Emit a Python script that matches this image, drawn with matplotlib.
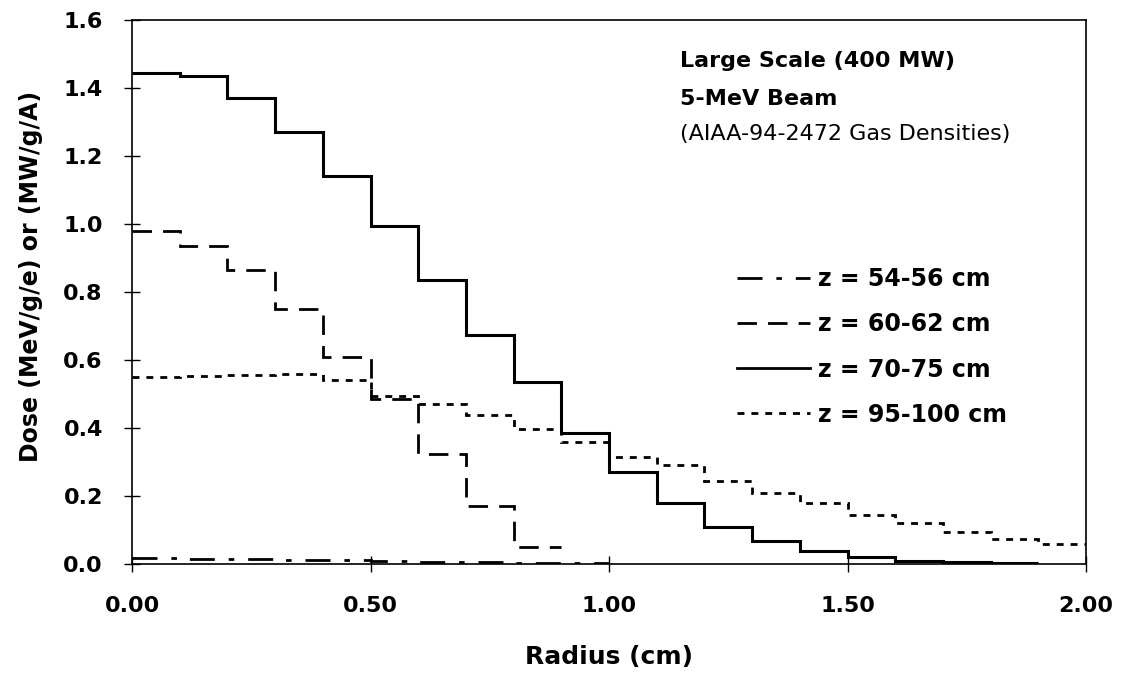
import numpy as np
import matplotlib
matplotlib.use('Agg')
import matplotlib.pyplot as plt
from matplotlib.lines import Line2D

plt.rcParams['font.family'] = ['DejaVu Sans']

# radial bins (cm) and dose values
z54_edges = [0.0, 0.1, 0.2, 0.3, 0.4, 0.5, 0.6, 0.7, 0.8, 0.9, 1.0]
z54_dose = [0.017, 0.016, 0.015, 0.013, 0.011, 0.009, 0.007, 0.005, 0.003, 0.002]

z60_edges = [0.0, 0.1, 0.2, 0.3, 0.4, 0.5, 0.6, 0.7, 0.8, 0.9]
z60_dose = [0.98, 0.935, 0.865, 0.75, 0.61, 0.485, 0.325, 0.17, 0.05]

z70_edges = [0.0, 0.1, 0.2, 0.3, 0.4, 0.5, 0.6, 0.7, 0.8, 0.9, 1.0,
             1.1, 1.2, 1.3, 1.4, 1.5, 1.6, 1.7, 1.8, 1.9]
z70_dose = [1.445, 1.435, 1.37, 1.27, 1.14, 0.995, 0.835, 0.675, 0.535, 0.385,
            0.27, 0.18, 0.11, 0.068, 0.038, 0.022, 0.01, 0.005, 0.003]

z95_edges = [0.0, 0.1, 0.2, 0.3, 0.4, 0.5, 0.6, 0.7, 0.8, 0.9, 1.0,
             1.1, 1.2, 1.3, 1.4, 1.5, 1.6, 1.7, 1.8, 1.9, 2.0]
z95_dose = [0.55, 0.552, 0.556, 0.56, 0.54, 0.495, 0.47, 0.438, 0.398, 0.36,
            0.316, 0.29, 0.243, 0.21, 0.178, 0.145, 0.12, 0.093, 0.073, 0.06]

labels = ['z = 54-56 cm', 'z = 60-62 cm', 'z = 70-75 cm', 'z = 95-100 cm']
styles = [(0, (9, 5, 2, 5)), (0, (7, 4)), '-', (0, (2.5, 2.5))]
widths = [2.0, 2.0, 2.2, 2.0]

fig = plt.figure(figsize=(11.26, 6.77), dpi=100)
ax = fig.add_axes([132/1126, 1-564/677, (1086-132)/1126, (564-20)/677])

series = [(z54_edges, z54_dose), (z60_edges, z60_dose),
          (z70_edges, z70_dose), (z95_edges, z95_dose)]
for (e, d), ls, lw in zip(series, styles, widths):
    ax.stairs(d, e, baseline=None, color='black', linestyle=ls, linewidth=lw)

ax.set_xlim(0, 2.0)
ax.set_ylim(0, 1.6)
ax.set_xticks(np.arange(0, 2.01, 0.5))
ax.set_xticklabels(['0.00', '0.50', '1.00', '1.50', '2.00'])
ax.set_yticks(np.arange(0, 1.61, 0.2))
ax.set_yticklabels(['0.0', '0.2', '0.4', '0.6', '0.8', '1.0', '1.2', '1.4', '1.6'])
ax.tick_params(axis='x', direction='inout', length=12, width=1, labelsize=16, pad=17)
ax.tick_params(axis='y', direction='inout', length=12, width=1, labelsize=16, pad=15)
for lab in ax.get_xticklabels() + ax.get_yticklabels():
    lab.set_fontweight('bold')
for s in ax.spines.values():
    s.set_linewidth(1.2)

ax.set_xlabel('Radius (cm)', fontsize=18, fontweight='bold', labelpad=21)
ax.set_ylabel('Dose (MeV/g/e) or (MW/g/A)', fontsize=17, fontweight='bold')
ax.yaxis.set_label_coords(-0.093, 0.529)

ax.text(0.574, 0.925, 'Large Scale (400 MW)', transform=ax.transAxes,
        fontsize=16, fontweight='bold', va='center')
ax.text(0.574, 0.855, '5-MeV Beam', transform=ax.transAxes,
        fontsize=16, fontweight='bold', va='center')
ax.text(0.574, 0.79, '(AIAA-94-2472 Gas Densities)', transform=ax.transAxes,
        fontsize=16, va='center')

handles = [Line2D([], [], color='black', linestyle=ls, linewidth=2) for ls in styles]
leg = ax.legend(handles, labels, loc='upper left', bbox_to_anchor=(0.612, 0.585),
                frameon=False, handlelength=3.1, handletextpad=0.34,
                labelspacing=0.9, prop={'size': 17, 'weight': 'bold'})

fig.savefig('out.png', dpi=100)
